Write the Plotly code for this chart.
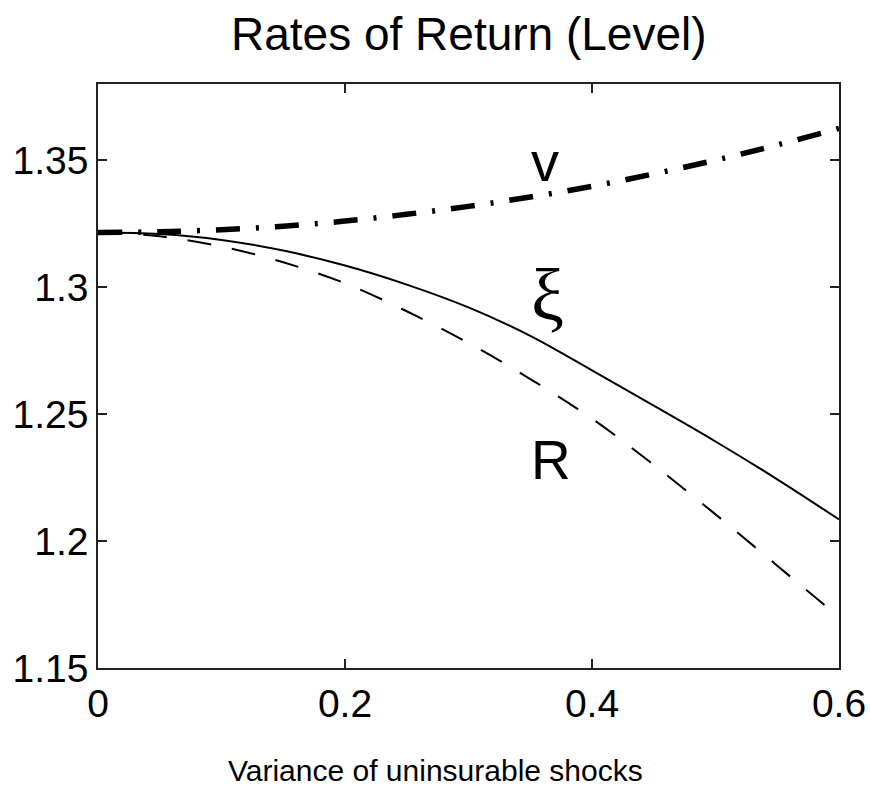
import plotly.graph_objects as go

# Variance of uninsurable shocks
variance = [0.0, 0.05, 0.10, 0.15, 0.20, 0.25, 0.30, 0.35, 0.40, 0.45, 0.50, 0.55, 0.60]

# Rates of return (levels)
rate_v = [1.3215, 1.3218, 1.3226, 1.3240, 1.3260, 1.3287, 1.3318, 1.3355, 1.3397, 1.3446, 1.3500, 1.3560, 1.3625]
rate_xi = [1.3215, 1.3209, 1.3186, 1.3144, 1.3085, 1.3010, 1.2920, 1.2808, 1.2672, 1.2533, 1.2392, 1.2243, 1.2085]
rate_R = [1.3215, 1.3200, 1.3160, 1.3098, 1.3015, 1.2905, 1.2780, 1.2638, 1.2482, 1.2300, 1.2105, 1.1903, 1.1700]

x_ticks = [0, 0.2, 0.4, 0.6]
x_ticktext = ["0", "0.2", "0.4", "0.6"]
y_ticks = [1.15, 1.20, 1.25, 1.30, 1.35]
y_ticktext = ["1.15", "1.2", "1.25", "1.3", "1.35"]

W, H = 870, 788
L, R, T, B = 98, 31, 84, 120

fig = go.Figure()
fig.add_trace(go.Scatter(x=variance, y=rate_v, mode="lines", line_shape="spline",
                         line=dict(color="black", width=5.5, dash="24px,16px,3px,16px"),
                         showlegend=False))
fig.add_trace(go.Scatter(x=variance, y=rate_xi, mode="lines", line_shape="spline",
                         line=dict(color="black", width=2), showlegend=False))
fig.add_trace(go.Scatter(x=variance, y=rate_R, mode="lines", line_shape="spline",
                         line=dict(color="black", width=2, dash="24px,21px"),
                         showlegend=False))

axis_common = dict(showgrid=False, zeroline=False, showline=True, linecolor="#222",
                   linewidth=1.5, mirror="ticks", ticks="inside", ticklen=9,
                   tickwidth=1.5, tickcolor="#222", automargin=False,
                   tickfont=dict(family="Liberation Sans, Arial", size=39, color="black"))

fig.update_xaxes(range=[0, 0.6], tickvals=x_ticks, ticktext=x_ticktext, **axis_common)
fig.update_yaxes(range=[1.15, 1.38], tickvals=y_ticks, ticktext=y_ticktext, **axis_common)

labels = [
    ("v", 0.362, 1.3493, "Liberation Sans, Arial", 56),
    ("\u03be", 0.364, 1.2968, "Liberation Serif, Times New Roman", 74),
    ("R", 0.367, 1.2318, "Liberation Sans, Arial", 55),
]
annotations = [dict(x=lx, y=ly, xref="x", yref="y", text=t, showarrow=False,
                    font=dict(family=f, size=s, color="black"))
               for t, lx, ly, f, s in labels]

annotations.append(dict(text="Rates of Return (Level)", x=0.5, y=1.0, xref="paper", yref="paper",
                        yanchor="bottom", yshift=22, showarrow=False,
                        font=dict(family="Liberation Sans, Arial", size=46, color="black")))
annotations.append(dict(text="Variance of uninsurable shocks", x=(435 - L) / (W - L - R), y=0,
                        xref="paper", yref="paper", showarrow=False, yanchor="top", yshift=-84,
                        font=dict(family="Liberation Sans, Arial", size=30, color="black")))

fig.update_layout(width=W, height=H, margin=dict(l=L, r=R, t=T, b=B),
                  paper_bgcolor="white", plot_bgcolor="white",
                  annotations=annotations)

fig.write_html("out.html")
